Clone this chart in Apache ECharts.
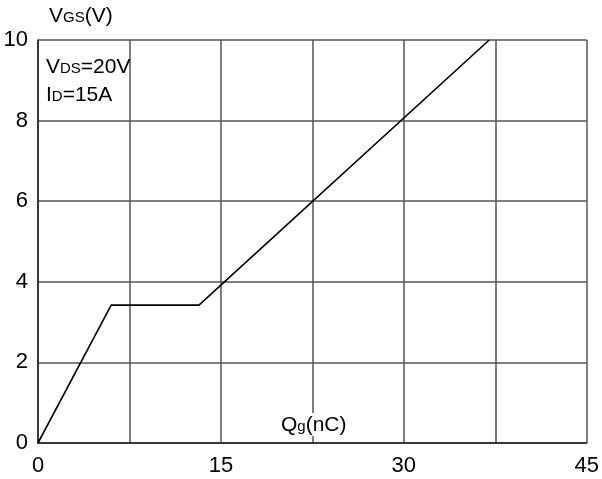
<!DOCTYPE html>
<html>
<head>
<meta charset="utf-8">
<script src="https://cdn.jsdelivr.net/npm/echarts@6/dist/echarts.min.js"></script>
<style>html,body{margin:0;padding:0;background:#fff}#c{width:602px;height:479px}</style>
</head>
<body>
<div id="c"></div>
<script>
const qg = [0, 6.0, 13.2, 37.0];
const vgs = [0, 3.42, 3.42, 10];
const xTickLabels = ['0', '15', '30', '45'];
const yTickLabels = ['0', '2', '4', '6', '8', '10'];

const chart = echarts.init(document.getElementById('c'));
const F = 'Liberation Sans, Arial, sans-serif';
const rich = {
  a: { fontSize: 21, fontFamily: F, verticalAlign: 'bottom' },
  b: { fontSize: 15, fontFamily: F, verticalAlign: 'bottom', padding: [0, 0, 2, 0] }
};
chart.setOption({
  animation: false,
  backgroundColor: '#fff',
  grid: { left: 38, right: 10, top: 40, bottom: 36 },
  xAxis: {
    type: 'value', min: 0, max: 45, interval: 7.5,
    axisLine: { show: true, lineStyle: { color: '#222', width: 1.5 } },
    axisTick: { show: false },
    axisLabel: {
      margin: 12, color: '#000', fontSize: 22, fontFamily: F,
      formatter: v => (Math.abs(v % 15) < 1e-9 ? xTickLabels[Math.round(v / 15)] : '')
    },
    splitLine: { show: true, lineStyle: { color: '#555', width: 1.5 } }
  },
  yAxis: {
    type: 'value', min: 0, max: 10, interval: 2,
    axisLine: { show: true, lineStyle: { color: '#222', width: 1.5 } },
    axisTick: { show: false },
    axisLabel: {
      margin: 10, color: '#000', fontSize: 22, fontFamily: F,
      formatter: v => yTickLabels[Math.round(v / 2)]
    },
    splitLine: { show: true, lineStyle: { color: '#555', width: 1.5 } }
  },
  series: [{
    type: 'line',
    data: qg.map((x, i) => [x, vgs[i]]),
    symbol: 'none',
    lineStyle: { color: '#000', width: 1.6 },
    z: 5
  }],
  graphic: [
    { type: 'text', left: 49, top: 6, z: 10, style: { text: '{a|V}{b|GS}{a|(V)}', fill: '#000', rich: rich } },
    { type: 'text', left: 46, top: 57, z: 10, style: { text: '{a|V}{b|DS}{a|=20V}', fill: '#000', rich: rich } },
    { type: 'text', left: 46, top: 85, z: 10, style: { text: '{a|I}{b|D}{a|=15A}', fill: '#000', rich: rich } },
    { type: 'text', left: 279, top: 413, z: 10, style: {
      text: '{a|Q}{b|g}{a|(nC)}', fill: '#000', backgroundColor: '#fff', padding: [2, 2, 0, 2], rich: rich
    } }
  ]
});
</script>
</body>
</html>
